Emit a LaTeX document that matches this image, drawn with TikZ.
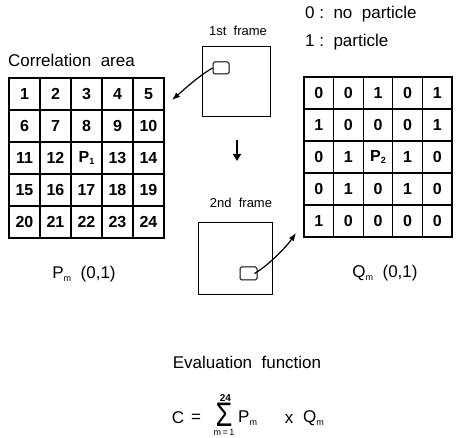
\documentclass[tikz,border=0pt]{standalone}
\usepackage{fontspec}
\setmainfont{Liberation Sans}
\usepackage{graphicx}
\usetikzlibrary{arrows.meta}
\newcommand\lowsub[1]{\raisebox{-0.3ex}{\fontsize{9}{9}\selectfont #1}}
\begin{document}
\begin{tikzpicture}[x=1pt,y=-1pt,
  cellL/.style={draw, line width=1.2pt, minimum width=31pt, minimum height=32pt, inner sep=0pt, font=\fontsize{16}{16}\selectfont\bfseries},
  cellR/.style={cellL, minimum width=29.6pt},
  framebox/.style={draw, line width=1pt, inner sep=0pt},
  lbl/.style={font=\fontsize{17}{17}\selectfont, inner sep=0pt},
  smalllbl/.style={font=\fontsize{13}{13}\selectfont, inner sep=0pt},
  conn/.style={line width=1.2pt, -{Latex[length=8pt,width=6pt]}},
]
\useasboundingbox (0,0) rectangle (456,438);
% left grid
\foreach \t [count=\i from 0] in {1,2,3,4,5,6,7,8,9,10,11,12,{P\lowsub{1}},13,14,15,16,17,18,19,20,21,22,23,24}{
  \pgfmathtruncatemacro\r{\i/5}
  \pgfmathtruncatemacro\c{mod(\i,5)}
  \node[cellL] (L\i) at ({9+15.5+31*\c},{78+16+32*\r}) {\t};
}
% right grid
\foreach \t [count=\i from 0] in {0,0,1,0,1,1,0,0,0,1,0,1,{P\lowsub{2}},1,0,0,1,0,1,0,1,0,0,0,0}{
  \pgfmathtruncatemacro\r{\i/5}
  \pgfmathtruncatemacro\c{mod(\i,5)}
  \node[cellR] (R\i) at ({304+14.8+29.6*\c},{77+16+32*\r}) {\t};
}
% frames
\node[framebox, minimum width=68pt, minimum height=70pt] (F1) at (236,82) {};
\node[framebox, rounded corners=1.5pt, minimum width=16pt, minimum height=12pt] (s1) at (221,68) {};
\node[framebox, minimum width=74pt, minimum height=72pt] (F2) at (235,259) {};
\node[framebox, rounded corners=1.5pt, minimum width=17pt, minimum height=13pt] (s2) at (248.5,273.5) {};
% connectors
\coordinate (tL) at (172,100);
\coordinate (tR) at (296,233);
\draw[conn] (s1.west) .. controls +(-15,9) and +(15,-13) .. (tL);
\draw[conn] ([xshift=-3pt]s2.east) .. controls +(14,-8) and +(-9,13) .. (tR);
\coordinate (d1) at (237,140);
\coordinate (d2) at (237,161);
\draw[line width=2.6pt, -{Triangle[length=7pt,width=8pt]}] (d1) -- (d2);
% labels
\node[lbl, anchor=west] (corr) at (8,60) {Correlation\ \ area};
\node[smalllbl] (f1t) at (238,31) {1st\ \ frame};
\node[smalllbl] (f2t) at (241,203) {2nd\ \ frame};
\node[lbl, anchor=west] (k0) at (305,14) {0\ :\ \ no\ \ particle};
\node[lbl, anchor=west] (k1) at (305,42) {1\ :\ \ particle};
\node[lbl] (pm) at (84,274) {P\lowsub{m}\ \ (0,1)};
\node[lbl] (qm) at (385,273) {Q\lowsub{m}\ \ (0,1)};
\node[lbl] (eval) at (247,362) {Evaluation\ \ function};
% formula
\node[lbl] (fc) at (178,418) {C};
\node[lbl] (feq) at (196,418) {=};
\node[inner sep=0pt, anchor=north, font=\fontsize{10}{12}\selectfont] (fsum) at (224,392.5) {%
  \begin{tabular}{@{}c@{}}
  \hspace{3pt}{\bfseries 24}\\[-1.5pt]
  {\fontsize{34}{34}\selectfont\scalebox{0.8}[1]{Σ}}\\[-3pt]
  {\fontsize{9}{9}\selectfont m\,=\,1}
  \end{tabular}};
\node[lbl, anchor=west] (fp) at (238,418) {P\lowsub{m}};
\node[lbl] (fx) at (289,419) {x};
\node[lbl, anchor=west] (fq) at (303,418) {Q\lowsub{m}};
\end{tikzpicture}
\end{document}
